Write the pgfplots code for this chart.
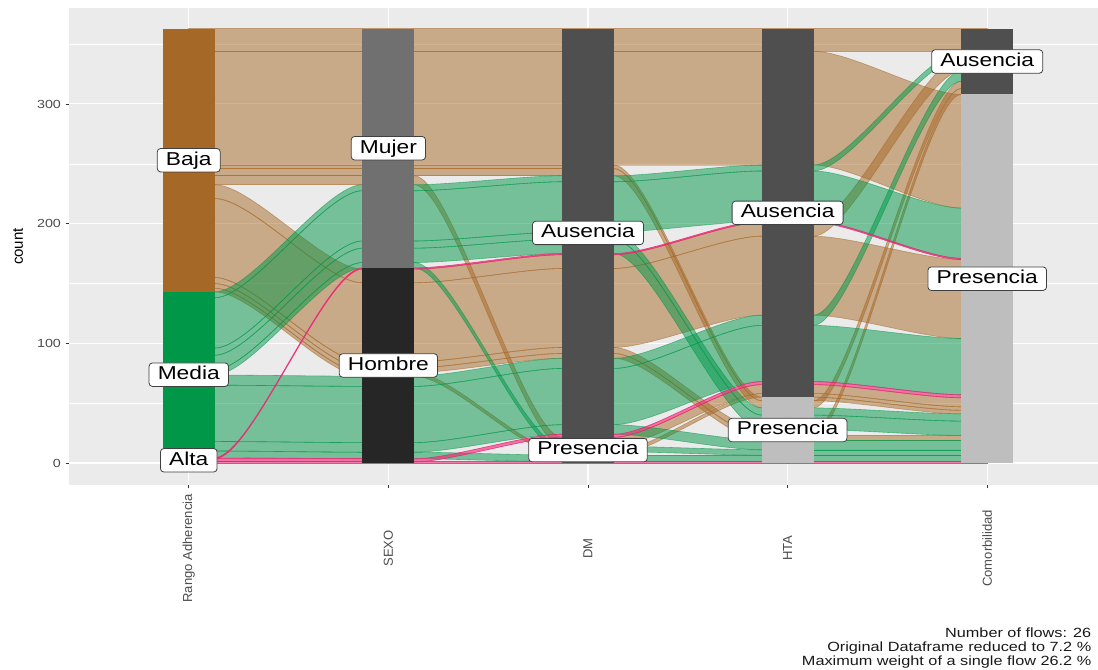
\documentclass[border=0pt]{standalone}
\usepackage{fontspec}
\setmainfont{Liberation Sans}[FakeStretch=1.22]
\newfontfamily\uprightsans{Liberation Sans}
\usepackage{pgfplots}
\pgfplotsset{compat=1.18}

\definecolor{panelbg}{RGB}{235,235,235}
\definecolor{baja}{RGB}{166,104,38}
\definecolor{media}{RGB}{0,151,72}
\definecolor{alta}{RGB}{236,38,118}
\definecolor{mujer}{RGB}{112,112,112}
\definecolor{hombre}{RGB}{38,38,38}
\definecolor{ausencia}{RGB}{79,79,79}
\definecolor{presencia}{RGB}{190,190,190}
\definecolor{axistext}{RGB}{77,77,77}
\definecolor{tickcol}{RGB}{51,51,51}

\tikzset{
  brownflow/.style={fill=baja, fill opacity=0.5, draw=baja, draw opacity=0.55, line width=0.45pt},
  greenflow/.style={fill=media, fill opacity=0.5, draw=media, draw opacity=0.55, line width=0.45pt},
  pinkflow/.style={fill=alta, fill opacity=0.6, draw=alta, draw opacity=0.85, line width=0.5pt},
  slabel/.style={fill=white, draw=black!75, line width=0.6pt, rounded corners=2.5pt,
    inner xsep=6.5pt, inner ysep=2.2pt, text height=10.2pt, text depth=3pt,
    font=\fontsize{14}{16}\selectfont, text=black},
}

% one segment of an alluvium: style, weight, left axis, bottom at left axis, bottom at right axis
\newcommand{\band}[5]{%
  \path[#1]
    (axis cs:#3,#4) -- (axis cs:{#3+0.13},#4)
    .. controls (axis cs:{#3+0.315},#4) and (axis cs:{#3+0.685},#5) ..
    (axis cs:{#3+0.87},#5) -- (axis cs:{#3+1},#5)
    -- (axis cs:{#3+1},{#5+#2}) -- (axis cs:{#3+0.87},{#5+#2})
    .. controls (axis cs:{#3+0.685},{#5+#2}) and (axis cs:{#3+0.315},{#4+#2}) ..
    (axis cs:{#3+0.13},{#4+#2}) -- (axis cs:#3,{#4+#2}) -- cycle;}
% a whole alluvium: style, weight, bottom position on each of the five axes
\newcommand{\alluvium}[7]{%
  \band{#1}{#2}{1}{#3}{#4}\band{#1}{#2}{2}{#4}{#5}%
  \band{#1}{#2}{3}{#5}{#6}\band{#1}{#2}{4}{#6}{#7}}

\begin{document}
\begin{tikzpicture}
\useasboundingbox (0,0) rectangle (823.5pt,502.5pt);
\begin{axis}[
  at={(51.75pt,138.75pt)}, anchor=south west,
  scale only axis, width=778.5pt, height=357.75pt,
  xmin=0.4, xmax=5.6, ymin=-18.4, ymax=380.2,
  clip=false,
  axis background/.style={fill=panelbg},
  axis line style={draw=none},
  xtick={1,2,3,4,5},
  xticklabels={Rango Adherencia, SEXO, DM, HTA, Comorbilidad},
  ytick={0,100,200,300},
  minor ytick={50,150,250,350},
  grid=both,
  major grid style={white, line width=0.8pt},
  minor grid style={white, line width=0.4pt},
  tick pos=left,
  tick align=outside,
  major tick length=2.5pt,
  minor tick length=0pt,
  tick style={tickcol, line width=0.6pt},
  /pgf/number format/assume math mode=true,
  yticklabel style={font=\fontsize{8.8}{10}\selectfont, text=axistext},
  xticklabel style={yshift=-45pt, rotate=90, anchor=center,
    font=\uprightsans\fontsize{9.8}{11}\selectfont, text=axistext},
  ylabel={count},
  every axis y label/.style={at={(axis description cs:-0.0491,0.5)}, rotate=90, anchor=center,
    font=\uprightsans\fontsize{11.3}{13}\selectfont, text=black},
]
% alluvia: Rango Adherencia, SEXO, DM, HTA, Comorbilidad
\alluvium{brownflow}{19}{344}{344}{344}{344}{344}
\alluvium{brownflow}{95}{249}{249}{249}{249}{213}
\alluvium{brownflow}{3}{246}{246}{246}{52}{41}
\alluvium{brownflow}{6}{240}{240}{240}{46}{313}
\alluvium{brownflow}{7.5}{232.5}{232.5}{14}{58}{47}
\alluvium{brownflow}{11.5}{221}{150.5}{162.5}{189.5}{327.5}
\alluvium{brownflow}{66}{155}{84.5}{96.5}{123.5}{104}
\alluvium{brownflow}{5}{150}{79.5}{91.5}{23}{308}
\alluvium{brownflow}{4}{146}{75.5}{87.5}{19}{19}
\alluvium{brownflow}{3}{143}{72.5}{6.5}{55}{44}
\alluvium{greenflow}{5}{138}{227.5}{235}{244}{339}
\alluvium{greenflow}{42}{96}{185.5}{193}{202}{171}
\alluvium{greenflow}{6}{90}{179.5}{187}{40}{35}
\alluvium{greenflow}{12}{78}{167.5}{175}{28}{23}
\alluvium{greenflow}{4.5}{73.5}{163}{9.5}{6.5}{6.5}
\alluvium{greenflow}{8.5}{65}{64}{79}{115}{319}
\alluvium{greenflow}{47}{18}{17}{32}{68}{57}
\alluvium{greenflow}{8}{10}{9}{24}{11}{11}
\alluvium{greenflow}{5.5}{4.5}{3.5}{1}{1}{1}
\alluvium{pinkflow}{1}{0}{0}{0}{0}{0}
\alluvium{pinkflow}{2.5}{1}{1}{21.5}{65.5}{54.5}
\alluvium{pinkflow}{1}{3.5}{162}{174}{201}{170}

% strata
\addplot[fill=alta, draw=none] coordinates {(0.87,0) (1.13,0) (1.13,4.5) (0.87,4.5)} -- cycle;
\addplot[fill=media, draw=none] coordinates {(0.87,4.5) (1.13,4.5) (1.13,143) (0.87,143)} -- cycle;
\addplot[fill=baja, draw=none] coordinates {(0.87,143) (1.13,143) (1.13,363) (0.87,363)} -- cycle;
\addplot[fill=hombre, draw=none] coordinates {(1.87,0) (2.13,0) (2.13,163) (1.87,163)} -- cycle;
\addplot[fill=mujer, draw=none] coordinates {(1.87,163) (2.13,163) (2.13,363) (1.87,363)} -- cycle;
\addplot[fill=ausencia, draw=none] coordinates {(2.87,0) (3.13,0) (3.13,21.5) (2.87,21.5)} -- cycle;
\addplot[fill=ausencia, draw=none] coordinates {(2.87,21.5) (3.13,21.5) (3.13,363) (2.87,363)} -- cycle;
\addplot[fill=presencia, draw=none] coordinates {(3.87,0) (4.13,0) (4.13,55) (3.87,55)} -- cycle;
\addplot[fill=ausencia, draw=none] coordinates {(3.87,55) (4.13,55) (4.13,363) (3.87,363)} -- cycle;
\addplot[fill=presencia, draw=none] coordinates {(4.87,0) (5.13,0) (5.13,308) (4.87,308)} -- cycle;
\addplot[fill=ausencia, draw=none] coordinates {(4.87,308) (5.13,308) (5.13,363) (4.87,363)} -- cycle;

% stratum labels
\node[slabel] at (axis cs:1,2.25) {Alta};
\node[slabel] at (axis cs:1,73.75) {Media};
\node[slabel] at (axis cs:1,253) {Baja};
\node[slabel] at (axis cs:2,81.5) {Hombre};
\node[slabel] at (axis cs:2,263) {Mujer};
\node[slabel] at (axis cs:3,10.75) {Presencia};
\node[slabel] at (axis cs:3,192.25) {Ausencia};
\node[slabel] at (axis cs:4,27.5) {Presencia};
\node[slabel] at (axis cs:4,209) {Ausencia};
\node[slabel] at (axis cs:5,154) {Presencia};
\node[slabel] at (axis cs:5,335.5) {Ausencia};

% caption
\node[anchor=east, align=right, font=\fontsize{10}{10.5}\selectfont, text=black!90]
  at (axis description cs:0.9894,-0.3417)
  {Number of flows: 26\\Original Dataframe reduced to 7.2 \%\\Maximum weight of a single flow 26.2 \%};
\end{axis}
\end{tikzpicture}
\end{document}
